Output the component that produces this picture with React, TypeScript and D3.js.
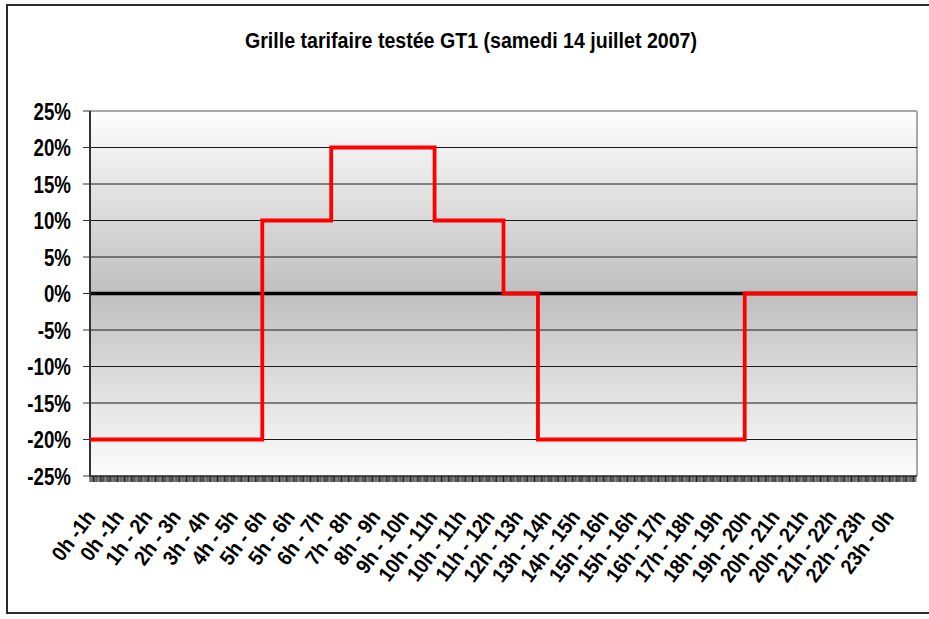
import React from "react";
import * as d3 from "d3";

const title = "Grille tarifaire testée GT1 (samedi 14 juillet 2007)";
// step start hours and rate (%) held until next start
const stepHours = [0, 5, 7, 10, 12, 13, 19, 24];
const stepRates = [-20, 10, 20, 10, 0, -20, 0, 0];
const yTicks = [25, 20, 15, 10, 5, 0, -5, -10, -15, -20, -25];
const xLabels = [
  "0h -1h", "0h -1h", "1h - 2h", "2h - 3h", "3h - 4h", "4h - 5h", "5h - 6h", "5h - 6h",
  "6h - 7h", "7h - 8h", "8h - 9h", "9h - 10h", "10h - 11h", "10h - 11h", "11h - 12h",
  "12h - 13h", "13h - 14h", "14h - 15h", "15h - 16h", "15h - 16h", "16h - 17h",
  "17h - 18h", "18h - 19h", "19h - 20h", "20h - 21h", "20h - 21h", "21h - 22h",
  "22h - 23h", "23h - 0h",
];

const W = 929;
const H = 619;
const left = 90, right = 917, top = 111, bottom = 476;
const FONT = "'Liberation Sans', Arial, sans-serif";

export default function App() {
  const x = d3.scaleLinear().domain([0, 24]).range([left, right]);
  const y = d3.scaleLinear().domain([-25, 25]).range([bottom, top]);
  const band = d3.scaleBand<number>().domain(d3.range(xLabels.length)).range([left, right]);

  const pts: [number, number][] = stepHours.map((h, i) => [h, stepRates[i]]);
  const line = d3
    .line<[number, number]>()
    .x((d) => x(d[0]))
    .y((d) => y(d[1]))
    .curve(d3.curveStepAfter);

  const minorTicks = d3.range(0, 24, 1 / 30);

  return (
    <svg width={W} height={H} style={{ position: "absolute", left: 0, top: 0 }}>
      <defs>
        <linearGradient id="bg" gradientUnits="userSpaceOnUse" x1={0} y1={top} x2={0} y2={bottom}>
          <stop offset="0" stopColor="#fefefe" />
          <stop offset="0.5" stopColor="#bfbfbf" />
          <stop offset="1" stopColor="#fdfdfd" />
        </linearGradient>
      </defs>
      <rect x={0} y={0} width={W} height={H} fill="#fff" />
      {/* outer frame */}
      <rect x={7} y={5} width={940} height={608} fill="none" stroke="#2a2a2a" strokeWidth={2} />

      <text
        x={471}
        y={48}
        textAnchor="middle"
        fontFamily={FONT}
        fontWeight="bold"
        fontSize={22}
        textLength={452}
        lengthAdjust="spacingAndGlyphs"
      >
        {title}
      </text>

      {/* plot area */}
      <rect x={left} y={top} width={right - left} height={bottom - top} fill="url(#bg)" />
      <line x1={left} x2={right} y1={top} y2={top} stroke="#888" strokeWidth={1.5} />
      <line x1={right} x2={right} y1={top} y2={bottom} stroke="#a8a8a8" strokeWidth={2} />

      {yTicks.map((t) =>
        t !== 25 && t !== -25 && t !== 0 ? (
          <line key={"g" + t} x1={left} x2={right} y1={y(t)} y2={y(t)} stroke="#1a1a1a" strokeWidth={1} />
        ) : null
      )}

      {/* zero line */}
      <line x1={left} x2={right} y1={y(0)} y2={y(0)} stroke="#000" strokeWidth={3.5} />

      {/* y axis */}
      <line x1={left} x2={left} y1={top} y2={bottom} stroke="#333" strokeWidth={2} />
      {yTicks.map((t) => (
        <g key={"y" + t}>
          <line x1={left - 7} x2={left} y1={y(t)} y2={y(t)} stroke="#333" strokeWidth={1} />
          <text
            transform={`translate(71,${y(t) + 8.5}) scale(0.78,1)`}
            textAnchor="end"
            fontFamily={FONT}
            fontWeight="bold"
            fontSize={24}
          >
            {t + "%"}
          </text>
        </g>
      ))}

      {/* x axis with dense ticks */}
      <line x1={left} x2={right} y1={bottom} y2={bottom} stroke="#222" strokeWidth={1.5} />
      {minorTicks.map((h, i) => (
        <line
          key={"m" + i}
          x1={x(h)}
          x2={x(h)}
          y1={bottom}
          y2={bottom + 6}
          stroke={i % 3 === 0 ? "#000" : "#333"}
          strokeWidth={0.9}
        />
      ))}

      {xLabels.map((lab, i) => {
        const cx = (band(i) as number) + band.bandwidth() / 2 - 8;
        return (
          <text
            key={"x" + i}
            transform={`translate(${cx},517) rotate(-53) scale(0.92,1)`}
            textAnchor="end"
            fontFamily={FONT}
            fontWeight="bold"
            fontSize={21}
          >
            {lab}
          </text>
        );
      })}

      {/* tariff step line */}
      <path d={line(pts) || ""} fill="none" stroke="#ff0000" strokeWidth={3.8} strokeLinejoin="miter" />
    </svg>
  );
}
